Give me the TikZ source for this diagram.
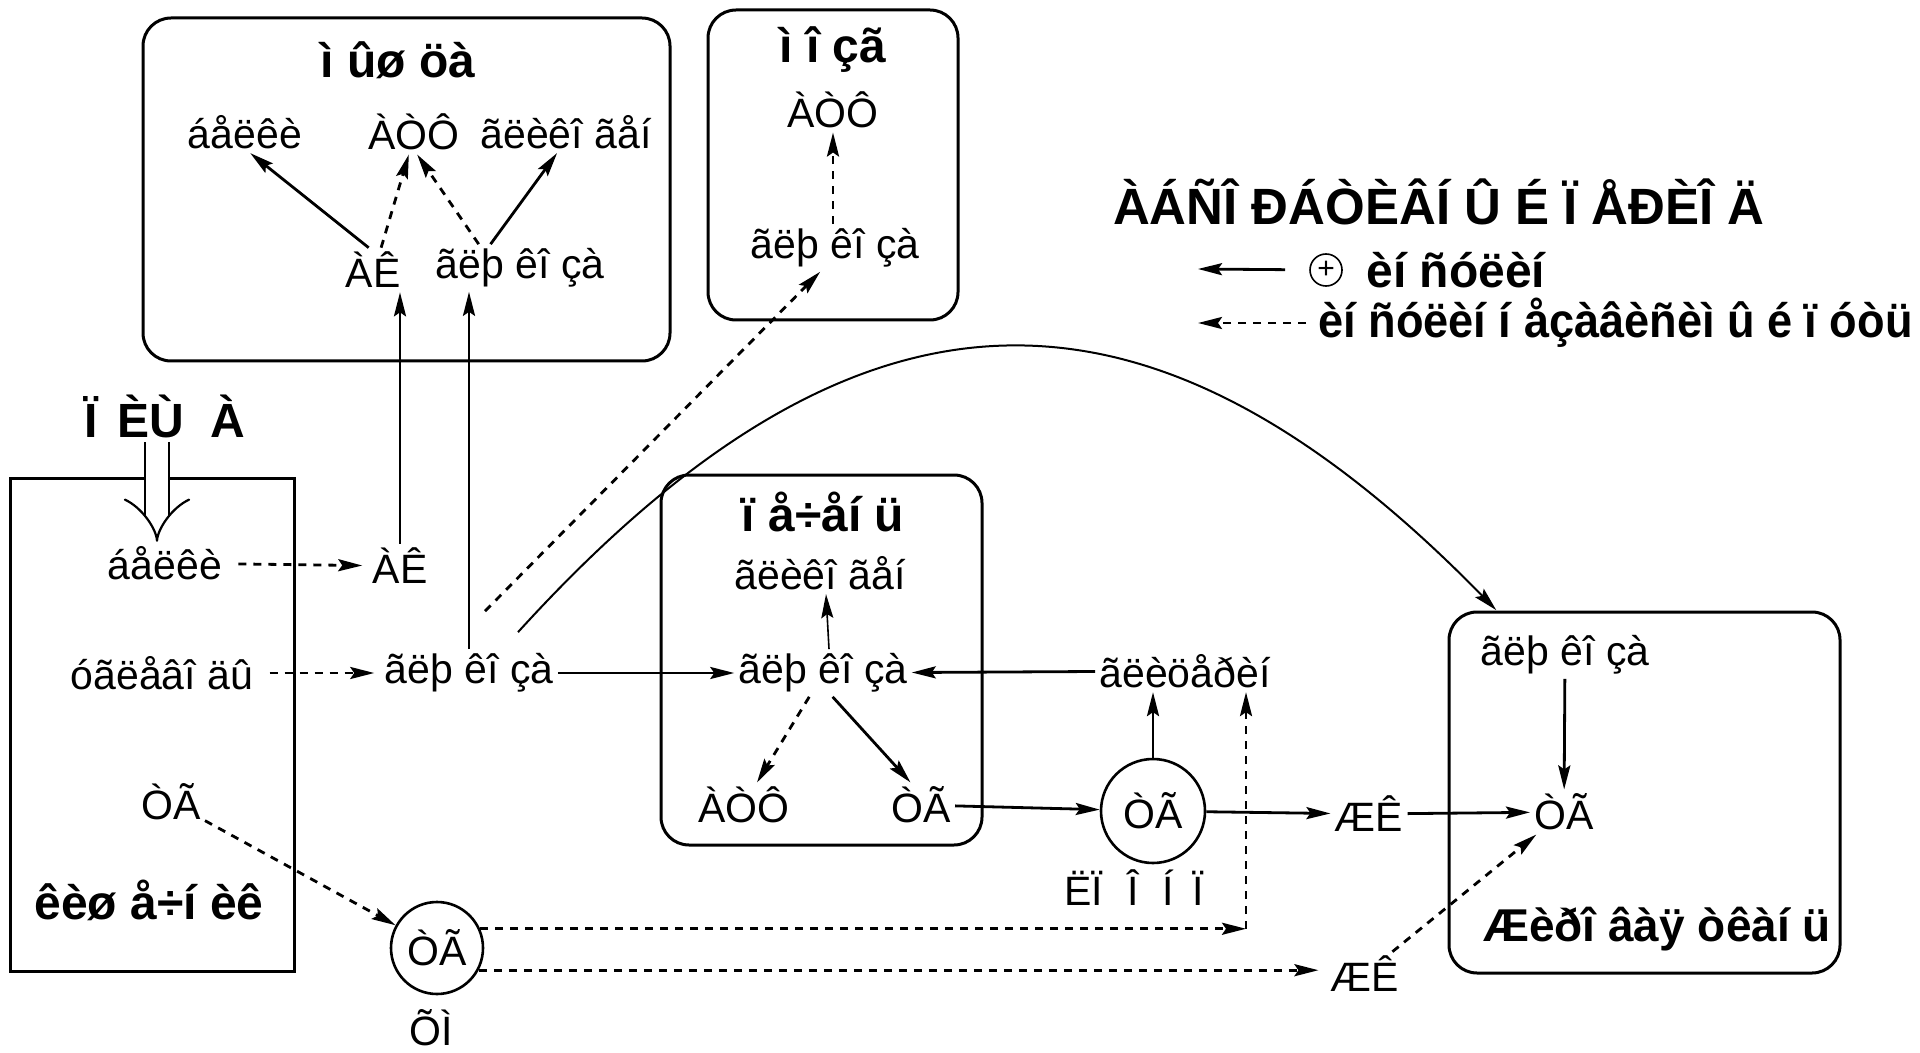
\documentclass[tikz,border=0pt]{standalone}
\usepackage{fontspec}
\setmainfont{Liberation Sans}
\newfontfamily\narrowfont[FakeStretch=0.94]{Liberation Sans}
\usetikzlibrary{arrows.meta, positioning, calc}
\tikzset{
    organ/.style={draw, line width=1.5pt, rounded corners=14pt},
    gut/.style={draw, line width=1.5pt},
    txt/.style={font=\fontsize{20.5}{24}\selectfont, inner sep=2pt},
    head/.style={font=\bfseries\fontsize{24}{28}\selectfont, inner sep=2pt},
    pool/.style={circle, draw, line width=1.3pt, inner sep=0pt, font=\fontsize{20.5}{24}\selectfont},
    line/.style={-{Stealth[length=12pt, width=6pt, inset=2pt]}, line width=1.4pt},
    dline/.style={line, dash pattern=on 4pt off 3.5pt},
    thinline/.style={-{Stealth[length=12pt, width=6pt, inset=2pt]}, line width=0.8pt},
    food/.style={double, double distance=11pt, line width=1.1pt, -{Implies}}
}

\begin{document}
\begin{tikzpicture}[x=0.5pt, y=-0.5pt]
    \useasboundingbox (0,0) rectangle (1920,1053);

    % мышца
    \draw[organ] (143,18) rectangle (670,361);
    \node[head] (mtitle) at (398,60) {ì ûø öà};
    \node[txt] (mprot) at (245,132) {áåëêè};
    \node[txt] (matp) at (414,132) {ÀÒÔ};
    \node[txt] (mglyc) at (566,132) {ãëèêî ãåí};
    \node[txt] (mak) at (373,270) {ÀÊ};
    \node[txt] (mglu) at (520,268) {ãëþ êî çà};
    \draw[line] (mak.101) -- (mprot.-76);
    \draw[dline] (mak.70) -- (matp.-103);
    \draw[dline] (mglu.150) -- (matp.-82);
    \draw[line] (mglu.141) -- (mglyc.-113);

    % мозг
    \draw[organ] (708,10) rectangle (958,320);
    \node[head] (btitle) at (833,50) {ì î çã};
    \node[txt] (batp) at (833,110) {ÀÒÔ};
    \node[txt] (bglu) at (835,248) {ãëþ êî çà};
    \draw[dline] (bglu.north -| batp) -- (batp);

    % legend
    \node[head, font=\bfseries\fontsize{25.5}{28}\selectfont] (legt) at (1439,202) {ÀÁÑÎ ÐÁÒÈÂÍ Û É Ï ÅÐÈÎ Ä};
    \node[pool, minimum size=16pt, font=\fontsize{15}{16}\selectfont, line width=0.8pt] (plus) at (1326,270) {+};
    \node[head, anchor=west] (ins) at (1362,270) {èí ñóëèí};
    \node[head, anchor=west, font=\narrowfont\bfseries\fontsize{24}{28}\selectfont] (indep) at (1314,323) {èí ñóëèí í åçàâèñèì û é ï óòü};
    \coordinate (k1) at (1198,269);
    \coordinate (k2) at (1198,323);
    \draw[line, shorten <=12pt] (plus) -- (k1);
    \draw[dline, shorten <=4pt] (indep.west) -- (k2);

    % кишечник
    \node[head] (food) at (165,416) {Ï\hspace{10pt}ÈÙ\hspace{13pt}À};
    \draw[gut] (10,478) rectangle (294,971);
    \node[txt] (iprot) at (165,563) {áåëêè};
    \node[txt] (icarb) at (162,673) {óãëåâî äû};
    \node[txt] (itg) at (171,802) {ÒÃ};
    \node[head] (gut) at (149,900) {êèø å÷í èê};
    \draw[food] ([xshift=-4pt]food.south) -- ([xshift=-4pt]iprot.north);

    \node[txt] (ak) at (400,566) {ÀÊ};
    \node[txt] (glu) at (469,673) {ãëþ êî çà};
    \draw[dline, shorten <=6pt, shorten >=3pt] (iprot) -- (ak);
    \draw[dline, shorten <=6pt, shorten >=3pt] (icarb) -- (glu);
    \draw[line] (ak) -- (ak |- mak.south);
    \draw[line] (glu) -- (glu |- mglu.south);
    \draw[dline] ($(glu.north)+(16,-38)$) -- (bglu.-122);

    % печень
    \draw[organ] (661,475) rectangle (982,845);
    \node[head] (ltitle) at (823,512) {ï å÷åí ü};
    \node[txt] (lglyc) at (820,573) {ãëèêî ãåí};
    \node[txt] (lglu) at (823,673) {ãëþ êî çà};
    \node[txt] (latp) at (744,805) {ÀÒÔ};
    \node[txt] (ltg) at (921,805) {ÒÃ};
    \draw[line] (glu) -- (lglu);
    \draw[thinline] ([xshift=3pt]lglu.north) -- ([xshift=3pt]lglyc.south);
    \draw[dline] (lglu.-120) -- (latp.60);
    \draw[line] (lglu.-68) -- (ltg.115);

    \node[txt] (glyc) at (1185,671) {ãëèöåðèí};
    \node[pool, minimum size=52pt] (vldl) at (1153,811) {ÒÃ};
    \node[txt] (vldlname) at (1134,888) {ËÏ\hspace{12pt}Î\hspace{12pt}Í\hspace{9pt}Ï};
    \node[txt] (fa1) at (1369,814) {ÆÊ};
    \draw[line] (ltg) -- (vldl);
    \draw[line] (glyc) -- (lglu);
    \draw[line] (vldl) -- (vldl |- glyc.south);
    \draw[line] (vldl) -- (fa1);

    % хиломикроны
    \node[pool, minimum size=46pt] (chm) at (437,948) {ÒÃ};
    \node[txt] (chmname) at (431,1028) {ÕÌ};
    \node[txt] (fa2) at (1365,974) {ÆÊ};
    \coordinate (hub) at (1246,929);
    \draw[dline] (itg) -- (chm);
    \draw[dline] (chm.24) -- (chm.24 -| hub);
    \draw[dline] (hub) -- (hub |- glyc.south);
    \draw[dline, shorten >=4pt] (chm.-28) -- (chm.-28 -| fa2.west);

    % жировая ткань
    \draw[organ] (1449,612) rectangle (1840,973);
    \node[txt] (aglu) at (1565,655) {ãëþ êî çà};
    \node[txt] (atg) at (1564,812) {ÒÃ};
    \node[head, font=\bfseries\fontsize{23}{28}\selectfont] (atitle) at (1657,929) {Æèðî âàÿ òêàí ü};
    \draw[line] (aglu) -- (atg);
    \draw[line] (fa1) -- (atg);
    \draw[dline] (fa2) -- (atg);
    \draw[line, line width=1pt] ($(glu.north)+(49,-17)$) .. controls (860,256) and (1150,256) .. ($(aglu.north west)+(20,-21)$);
\end{tikzpicture}
\end{document}
